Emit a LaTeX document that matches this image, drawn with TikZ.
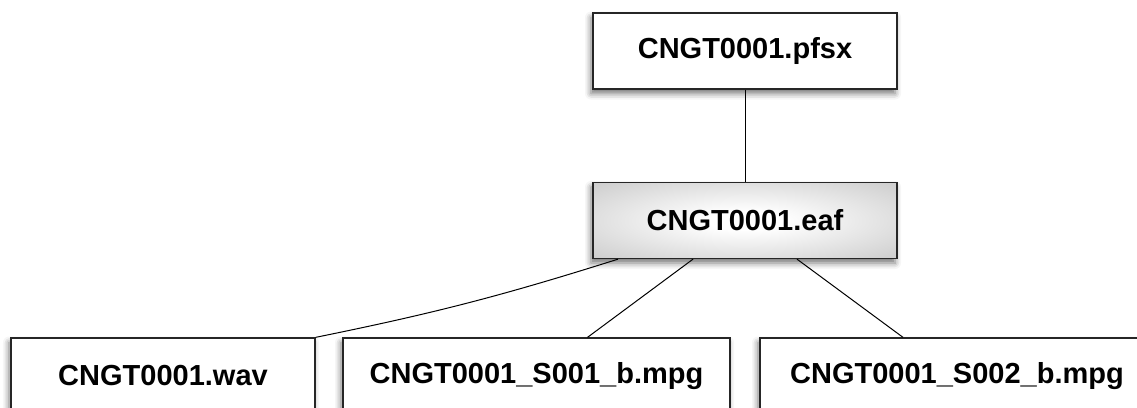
\documentclass[tikz,border=0pt]{standalone}
\usepackage{fontspec}
\setmainfont{Liberation Sans}
\usetikzlibrary{shadows.blur}

% soft grey glow for the annotation box
\pgfdeclareradialshading{eafglow}{\pgfpoint{0bp}{0bp}}{%
  color(0bp)=(white); color(6bp)=(white);
  color(48bp)=(black!28); color(72bp)=(black!36)}

\begin{document}
\begin{tikzpicture}[
  x=1pt, y=-1pt,
  every node/.style={font=\fontsize{29}{33}\selectfont\bfseries},
  file/.style ={draw=black!85, line width=1.3pt, fill=white,
                minimum width=304pt, minimum height=76pt, inner sep=0pt,
                blur shadow={shadow xshift=-2pt, shadow yshift=-4.5pt,
                             shadow blur radius=6pt, shadow opacity=55}},
  annot/.style={file, shading=eafglow},
  link/.style ={draw=black, line width=1pt}
]
\useasboundingbox (0,0) rectangle (1137,407);

%% ─── project ───────────────────────────────────────────────────────────────
\node[file]  (pfsx) at (745,51)    {CNGT0001.pfsx};
\node[annot] (eaf)  at (745,220.5) {CNGT0001.eaf};

%% ─── media ─────────────────────────────────────────────────────────────────
\node[file]                      (wav)  at (163,376)   {CNGT0001.wav};
\node[file, minimum width=387pt] (s001) at (536.5,376) {CNGT0001\_S001\_b.mpg};
\node[file, minimum width=394pt] (s002) at (957,376)   {CNGT0001\_S002\_b.mpg};

\draw[link] (pfsx) -- (eaf);
\draw[link] ([xshift=-127pt]eaf.south) to[bend left=3] (wav.north east);
\draw[link] ([xshift=-52pt]eaf.south) -- ([xshift=51pt]s001.north);
\draw[link] ([xshift=52pt]eaf.south)  -- ([xshift=-54pt]s002.north);

\end{tikzpicture}
\end{document}
